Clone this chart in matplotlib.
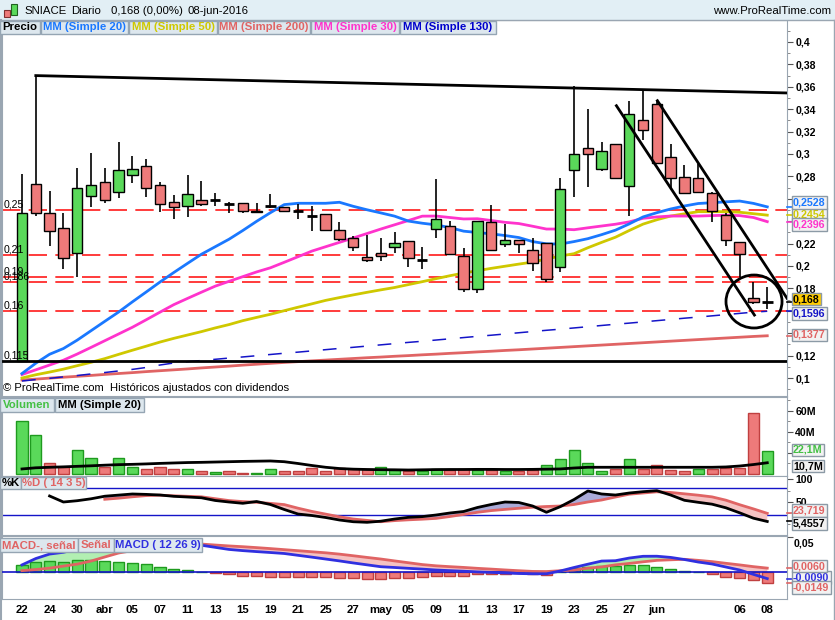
import numpy as np
import matplotlib
matplotlib.use('Agg')
import matplotlib.pyplot as plt
import matplotlib.transforms as mtransforms
from matplotlib.patches import Rectangle, Ellipse
from matplotlib.ticker import FuncFormatter

plt.rcParams['font.family'] = ['Liberation Sans', 'DejaVu Sans']
plt.rcParams['font.weight'] = 'bold'

# ---- daily candles, 22-mar-2016 .. 08-jun-2016 (index 0..54) ----
opens = [0.115, 0.273, 0.247, 0.234, 0.212, 0.2625, 0.275, 0.266, 0.281, 0.289,
         0.272, 0.257, 0.2536, 0.259, 0.259, 0.2554, 0.2563, 0.2491, 0.2536, 0.2527,
         0.249, 0.2446, 0.2464, 0.232, 0.225, 0.208, 0.2116, 0.217, 0.2223, 0.2054,
         0.233, 0.2357, 0.209, 0.1795, 0.2393, 0.2196, 0.2232, 0.2143, 0.2205, 0.1991,
         0.2857, 0.3054, 0.2866, 0.309, 0.2714, 0.330, 0.3446, 0.2973, 0.2795, 0.2786,
         0.265, 0.2455, 0.2214, 0.1714, 0.168]
highs = [0.282, 0.370, 0.267, 0.247, 0.2875, 0.301, 0.2875, 0.311, 0.298, 0.2955,
         0.275, 0.2634, 0.281, 0.276, 0.265, 0.2574, 0.2563, 0.256, 0.2643, 0.2527,
         0.2554, 0.2536, 0.2464, 0.2393, 0.2268, 0.2277, 0.225, 0.2304, 0.2223, 0.217,
         0.2777, 0.240, 0.216, 0.240, 0.2545, 0.2375, 0.2232, 0.225, 0.2205, 0.2786,
         0.3607, 0.340, 0.3107, 0.309, 0.347, 0.357, 0.348, 0.309, 0.290, 0.291,
         0.266, 0.2473, 0.2214, 0.1857, 0.1813]
lows = [0.115, 0.245, 0.218, 0.197, 0.190, 0.2525, 0.2565, 0.261, 0.274, 0.2616,
        0.248, 0.242, 0.2437, 0.2536, 0.2536, 0.247, 0.247, 0.2482, 0.2518, 0.2482,
        0.242, 0.231, 0.232, 0.2223, 0.2134, 0.2036, 0.2045, 0.2116, 0.199, 0.1973,
        0.225, 0.2107, 0.177, 0.176, 0.2143, 0.217, 0.2116, 0.1955, 0.1857, 0.1946,
        0.2616, 0.2705, 0.2848, 0.2786, 0.2446, 0.3125, 0.292, 0.2696, 0.265, 0.265,
        0.2393, 0.218, 0.190, 0.166, 0.1616]
closes = [0.247, 0.247, 0.231, 0.207, 0.270, 0.272, 0.259, 0.286, 0.2866, 0.2696,
          0.2554, 0.2527, 0.2643, 0.2554, 0.259, 0.2554, 0.249, 0.2482, 0.2536, 0.249,
          0.249, 0.2446, 0.232, 0.224, 0.217, 0.2054, 0.209, 0.2205, 0.207, 0.2054,
          0.242, 0.2107, 0.1795, 0.240, 0.2143, 0.2232, 0.2196, 0.2027, 0.1884, 0.2687,
          0.300, 0.300, 0.3027, 0.2786, 0.3357, 0.3214, 0.292, 0.2786, 0.265, 0.266,
          0.249, 0.2232, 0.2107, 0.168, 0.168]

ma20 = [0.1040, 0.1132, 0.1212, 0.1263, 0.1338, 0.1422, 0.1506, 0.1589, 0.1680, 0.1768,
        0.1857, 0.1942, 0.2024, 0.2105, 0.2172, 0.2239, 0.2317, 0.2399, 0.2476, 0.2548,
        0.2560, 0.2560, 0.2560, 0.2569, 0.2533, 0.2502, 0.2474, 0.2445, 0.2401, 0.2382,
        0.2367, 0.2343, 0.2311, 0.2299, 0.2287, 0.2272, 0.2254, 0.2218, 0.2198, 0.2196,
        0.2218, 0.2244, 0.2280, 0.2320, 0.2376, 0.2438, 0.2476, 0.2509, 0.2536, 0.2558,
        0.2565, 0.2573, 0.2580, 0.2559, 0.2528]
ma30 = [0.1031, 0.1073, 0.1116, 0.1159, 0.1214, 0.1273, 0.1333, 0.1393, 0.1453, 0.1520,
        0.1588, 0.1655, 0.1711, 0.1766, 0.1820, 0.1863, 0.1905, 0.1947, 0.1984, 0.2033,
        0.2083, 0.2133, 0.2172, 0.2211, 0.2250, 0.2290, 0.2330, 0.2368, 0.2406, 0.2445,
        0.2446, 0.2433, 0.2420, 0.2422, 0.2406, 0.2390, 0.2379, 0.2355, 0.2330, 0.2330,
        0.2324, 0.2341, 0.2357, 0.2373, 0.2394, 0.2426, 0.2438, 0.2446, 0.2446, 0.2446,
        0.2450, 0.2453, 0.2450, 0.2433, 0.2396]
ma50 = [0.1000, 0.1029, 0.1053, 0.1079, 0.1110, 0.1140, 0.1173, 0.1211, 0.1248, 0.1284,
        0.1321, 0.1354, 0.1384, 0.1414, 0.1447, 0.1477, 0.1512, 0.1541, 0.1569, 0.1601,
        0.1632, 0.1662, 0.1693, 0.1718, 0.1742, 0.1765, 0.1787, 0.1808, 0.1834, 0.1860,
        0.1887, 0.1913, 0.1937, 0.1958, 0.1979, 0.1998, 0.2017, 0.2035, 0.2063, 0.2089,
        0.2110, 0.2163, 0.2211, 0.2257, 0.2317, 0.2374, 0.2413, 0.2446, 0.2466, 0.2485,
        0.2485, 0.2485, 0.2480, 0.2467, 0.2454]
ma200 = [0.0982, 0.0990, 0.0999, 0.1007, 0.1015, 0.1023, 0.1032, 0.1040, 0.1048, 0.1057,
         0.1065, 0.1073, 0.1081, 0.1090, 0.1098, 0.1106, 0.1115, 0.1123, 0.1131, 0.1139,
         0.1146, 0.1153, 0.1160, 0.1167, 0.1174, 0.1181, 0.1187, 0.1194, 0.1200, 0.1207,
         0.1213, 0.1220, 0.1226, 0.1233, 0.1239, 0.1246, 0.1252, 0.1259, 0.1266, 0.1273,
         0.1280, 0.1287, 0.1294, 0.1301, 0.1308, 0.1315, 0.1322, 0.1329, 0.1336, 0.1343,
         0.1350, 0.1357, 0.1364, 0.1371, 0.1377]
ma130 = [0.0973, 0.0986, 0.0997, 0.1010, 0.1022, 0.1036, 0.1049, 0.1063, 0.1077, 0.1094,
         0.1116, 0.1134, 0.1146, 0.1156, 0.1167, 0.1178, 0.1188, 0.1199, 0.1210, 0.1221,
         0.1231, 0.1242, 0.1253, 0.1264, 0.1274, 0.1285, 0.1296, 0.1307, 0.1318, 0.1328,
         0.1339, 0.1350, 0.1361, 0.1372, 0.1382, 0.1393, 0.1404, 0.1415, 0.1426, 0.1436,
         0.1447, 0.1458, 0.1469, 0.1480, 0.1490, 0.1501, 0.1512, 0.1523, 0.1534, 0.1544,
         0.1555, 0.1566, 0.1577, 0.1588, 0.1596]

# horizontal levels and drawn trendlines
red_levels = [0.25, 0.21, 0.19, 0.186, 0.16]
red_labels = ['0,25', '0,21', '0,19', '0,186', '0,16']
support = 0.115
top_line_x, top_line_y = [1, 55.43], [0.370, 0.3545]
chan_a_x, chan_a_y = [43.07, 53.07], [0.3431, 0.1562]
chan_b_x, chan_b_y = [46.04, 55.43], [0.3476, 0.1712]
circle_xy, circle_w, circle_h = (53.04, 0.1683), 4.06, 0.0473

# volume (millions) and its 20-day average
volume = [50.0, 37.6, 10.0, 7.1, 23.3, 15.4, 6.9, 14.8, 6.9, 5.2,
          6.2, 4.3, 5.2, 3.3, 2.1, 3.3, 1.4, 1.4, 4.3, 2.4,
          2.4, 5.5, 2.4, 5.5, 4.6, 4.6, 6.2, 4.0, 3.3, 3.0,
          5.0, 4.0, 5.0, 4.0, 4.0, 3.0, 3.0, 4.0, 9.0, 14.4,
          23.0, 10.6, 2.8, 4.4, 14.4, 4.4, 8.8, 3.6, 3.3, 4.4,
          5.0, 5.6, 5.6, 58.0, 22.1]
vol_up = [1, 1, 0, 0, 1, 1, 0, 1, 1, 0,
          0, 0, 1, 0, 1, 0, 0, 1, 1, 0,
          0, 0, 0, 0, 0, 0, 1, 1, 0, 1,
          1, 0, 0, 1, 0, 1, 0, 0, 1, 1,
          1, 1, 1, 0, 1, 0, 0, 0, 0, 1,
          0, 0, 0, 0, 1]
vol_ma = [4.8, 5.9, 6.4, 6.8, 7.3, 7.8, 8.4, 8.9, 9.2, 9.6,
          10.1, 10.5, 10.9, 11.1, 11.4, 11.7, 12.0, 12.2, 12.4, 11.7,
          10.0, 8.1, 6.4, 5.2, 4.6, 4.3, 4.1, 4.0, 3.8, 4.0,
          4.2, 4.3, 4.3, 4.4, 4.4, 4.3, 4.3, 4.4, 4.6, 4.8,
          5.7, 6.4, 6.4, 6.4, 6.4, 6.4, 6.4, 6.4, 6.4, 6.4,
          6.4, 6.7, 7.6, 9.0, 10.7]

# stochastic (14 3 5)
nan = np.nan
stoch_k = [nan, nan, 62.7, 49.2, 52.1, 56.4, 62.2, 64.7, 67.2, 66.3,
           64.9, 62.0, 60.4, 58.7, 52.6, 49.2, 46.3, 50.3, 43.6, 32.4,
           22.2, 18.9, 14.4, 8.8, 4.9, 3.6, 6.1, 11.0, 14.8, 16.4,
           20.0, 24.5, 27.9, 36.9, 43.6, 49.2, 48.1, 40.2, 26.1, 38.7,
           54.8, 73.9, 67.2, 64.9, 69.4, 72.4, 74.6, 64.9, 53.0, 48.5,
           44.3, 36.2, 24.9, 12.8, 5.46]
stoch_d = [nan, nan, nan, nan, nan, nan, 55.3, 57.8, 60.9, 63.6,
           64.5, 63.1, 62.0, 60.9, 56.6, 52.4, 50.1, 48.5, 46.1, 43.4,
           35.3, 28.1, 22.0, 16.0, 11.0, 7.9, 4.9, 7.4, 9.2, 10.6,
           12.4, 16.6, 21.3, 26.1, 29.9, 32.6, 35.1, 37.5, 39.1, 40.2,
           43.6, 49.2, 53.7, 60.4, 66.7, 69.4, 72.1, 70.6, 67.6, 64.5,
           60.7, 53.3, 43.1, 33.7, 23.72]

# MACD (12 26 9)
macd = [0.0106, 0.0197, 0.0261, 0.0286, 0.0333, 0.0361, 0.0383, 0.0397, 0.0404, 0.0409,
        0.0411, 0.0404, 0.0396, 0.0387, 0.0357, 0.0327, 0.0310, 0.0296, 0.0283, 0.0269,
        0.0243, 0.0217, 0.0190, 0.0163, 0.0134, 0.0107, 0.0080, 0.0069, 0.0057, 0.0046,
        0.0033, 0.0024, 0.0016, 0.0006, -0.0001, -0.0009, -0.0017, -0.0021, -0.0021, 0.0019,
        0.0069, 0.0116, 0.0161, 0.0166, 0.0204, 0.0229, 0.0230, 0.0213, 0.0183, 0.0147,
        0.0119, 0.0076, 0.0033, -0.0029, -0.0090]
signal = [0.0024, 0.0040, 0.0060, 0.0089, 0.0117, 0.0161, 0.0219, 0.0276, 0.0310, 0.0333,
          0.0354, 0.0376, 0.0393, 0.0404, 0.0390, 0.0377, 0.0366, 0.0353, 0.0339, 0.0324,
          0.0309, 0.0294, 0.0279, 0.0260, 0.0237, 0.0213, 0.0190, 0.0163, 0.0137, 0.0111,
          0.0093, 0.0081, 0.0070, 0.0057, 0.0046, 0.0034, 0.0023, 0.0013, 0.0011, 0.0023,
          0.0033, 0.0059, 0.0077, 0.0107, 0.0127, 0.0150, 0.0171, 0.0179, 0.0186, 0.0171,
          0.0153, 0.0129, 0.0106, 0.0081, 0.0060]
hist = [0.0104, 0.0147, 0.0161, 0.0147, 0.0176, 0.0176, 0.0161, 0.0147, 0.0128, 0.0114,
        0.0071, 0.0047, 0.0033, 0.0004, -0.0014, -0.0029, -0.0048, -0.0048, -0.0062, -0.0062,
        -0.0062, -0.0071, -0.0071, -0.0086, -0.0086, -0.0100, -0.0100, -0.0086, -0.0086, -0.0071,
        -0.0057, -0.0048, -0.0048, -0.0029, -0.0029, -0.0019, -0.0014, -0.0029, -0.0039, 0.0005,
        0.0057, 0.0080, 0.0094, 0.0094, 0.0104, 0.0104, 0.0071, 0.0047, 0.0019, 0.0003,
        -0.0029, -0.0062, -0.0086, -0.0110, -0.0149]

# x axis labels (trading-day index -> text)
xlabel_pos = [0, 2, 4, 6, 8, 10, 12, 14, 16, 18, 20, 22, 24, 26, 28, 30, 32, 34, 36, 38,
              40, 42, 44, 46, 52, 54]
xlabel_txt = ['22', '24', '30', 'abr', '05', '07', '11', '13', '15', '19', '21', '25', '27',
              'may', '05', '09', '11', '13', '17', '19', '23', '25', '27', 'jun', '06', '08']

# ------------------------------------------------------------------
W, H = 835, 620
fig = plt.figure(figsize=(W / 100, H / 100), dpi=100)
fig.patch.set_facecolor('white')

GRID = '#9aa6b2'
GREEN, GREEN_E = '#5ad95a', '#1f9a1f'
RED, RED_E = '#ee7a7a', '#c04040'
BLUE, YELLOW, MAGENTA, SALMON, NAVY = '#1a78ff', '#cfc800', '#ff33cc', '#e06464', '#1414c8'
XMIN, XMAX = -1.449, 55.43


def px_axes(x0, y0, x1, y1):
    a = fig.add_axes([x0 / W, 1 - y1 / H, (x1 - x0) / W, (y1 - y0) / H])
    a.set_xlim(XMIN, XMAX)
    a.set_xticks([])
    for s in a.spines.values():
        s.set_color(GRID)
    a.yaxis.tick_right()
    a.tick_params(axis='y', which='major', length=4, color='#555555', labelsize=7.6, pad=2)
    a.tick_params(axis='y', which='minor', length=2, color='#777777')
    return a


def tag(a, y, text, color, fc='#f2f2f2'):
    tr = mtransforms.blended_transform_factory(a.transAxes, a.transData)
    a.text(1 + 6 / 785, y, text, transform=tr, color=color, fontsize=7.7, weight='bold',
           va='center', ha='left', clip_on=False, zorder=10,
           bbox=dict(boxstyle='square,pad=0.12', fc=fc, ec='#8c9aa6', lw=1))


def mark(a, y, color):
    tr = mtransforms.blended_transform_factory(a.transAxes, a.transData)
    a.plot([1.0, 1 + 5 / 785], [y, y], transform=tr, color=color, lw=1.2, clip_on=False, zorder=9)


def legend_row(y0, y1, items):
    for text, color, x0, x1 in items:
        fig.patches.append(Rectangle((x0 / W, 1 - y1 / H), (x1 - x0) / W, (y1 - y0) / H,
                                     transform=fig.transFigure, fc='#dde7ee', ec='#95a5b3',
                                     lw=1, zorder=6))
        fig.text((x0 + x1) / 2 / W, 1 - (y0 + y1) / 2 / H, text, color=color, ha='center',
                 va='center', fontsize=8.2, weight='bold', zorder=7)


def price_fmt(v, p):
    # labels hidden under the value tags in the original are left blank
    if any(abs(v - hv) < 1e-6 for hv in (0.26, 0.24, 0.16, 0.14)):
        return ''
    s = f'{v:.2f}'.rstrip('0').rstrip('.')
    return s.replace('.', ',')


idx = np.arange(len(closes))
o, h, l, c = map(np.array, (opens, highs, lows, closes))

# ---- header ----
fig.patches.append(Rectangle((0, 1 - 19.5 / H), 1, 19.5 / H, transform=fig.transFigure,
                             fc='#e2eff5', ec='none', zorder=1))
fig.lines.append(plt.Line2D([0, 1], [1 - 19.5 / H] * 2, transform=fig.transFigure,
                            color=GRID, lw=1))
fig.patches.append(Rectangle((4 / W, 1 - 17 / H), 6 / W, 7 / H, transform=fig.transFigure,
                             fc=RED, ec='#803030', lw=0.8, zorder=2))
fig.patches.append(Rectangle((11 / W, 1 - 15 / H), 6 / W, 11 / H, transform=fig.transFigure,
                             fc=GREEN, ec='#206020', lw=0.8, zorder=2))
for xx, s in [(24, 'SNIACE'), (71, 'Diario'), (111, '0,168 (0,00%)'), (188, '08-jun-2016')]:
    fig.text(xx / W, 1 - 11.5 / H, s, fontsize=8.2, weight='normal', va='center')
fig.text(831 / W, 1 - 11.5 / H, 'www.ProRealTime.com', fontsize=8.2, weight='normal',
         va='center', ha='right')

# ---- price panel ----
ax = px_axes(2, 20, 787, 396)
ax.set_ylim(0.08393, 0.41964)
ax.set_yticks(np.arange(0.10, 0.4001, 0.02))
ax.set_yticks(np.arange(0.09, 0.415, 0.01), minor=True)
ax.yaxis.set_major_formatter(FuncFormatter(price_fmt))

for lev, lab in zip(red_levels, red_labels):
    ax.axhline(lev, color='#ff1a1a', lw=1.2, dashes=(11, 5), zorder=1.5)
    ax.text(-1.33, lev + 0.0006, lab, fontsize=7.6, weight='normal', va='bottom', zorder=6)
ax.axhline(support, color='black', lw=2, zorder=5)
ax.text(-1.33, support + 0.0006, '0,115', fontsize=7.6, weight='normal', va='bottom', zorder=6)

ax.plot(idx, ma200, color=SALMON, lw=2, zorder=2)
ax.plot(idx, ma130, color=NAVY, lw=1.1, dashes=(9, 9), zorder=2)
ax.plot(idx, ma50, color=YELLOW, lw=2, zorder=2)
ax.plot(idx, ma30, color=MAGENTA, lw=2, zorder=2)
ax.plot(idx, ma20, color=BLUE, lw=2, zorder=2)

ax.vlines(idx, l, h, color='black', lw=1.2, zorder=3)
doji = c == o
body_col = np.where(c > o, GREEN, RED)
ax.bar(idx[~doji], np.abs(c - o)[~doji], bottom=np.minimum(o, c)[~doji], width=0.75,
       color=body_col[~doji], edgecolor='black', lw=1, zorder=4)
ax.hlines(c[doji], idx[doji] - 0.38, idx[doji] + 0.38, color='black', lw=2, zorder=4)

ax.plot(top_line_x, top_line_y, color='black', lw=2, zorder=5)
ax.plot(chan_a_x, chan_a_y, color='black', lw=2, zorder=5)
ax.plot(chan_b_x, chan_b_y, color='black', lw=2, zorder=5)
ax.add_patch(Ellipse(circle_xy, circle_w, circle_h, fill=False, ec='black', lw=2, zorder=5))

for v, col in [(0.2528, BLUE), (0.2454, YELLOW), (0.2396, MAGENTA), (0.168, 'black'),
               (0.1596, NAVY), (0.1377, SALMON)]:
    mark(ax, v, col)
tag(ax, 0.2462, '0,2454', YELLOW)
tag(ax, 0.2565, '0,2528', BLUE)
tag(ax, 0.2372, '0,2396', MAGENTA)
tag(ax, 0.1705, '0,168', 'black', fc='#ffcc00')
tag(ax, 0.1578, '0,1596', NAVY)
tag(ax, 0.1384, '0,1377', SALMON)

fig.text(3 / W, 1 - 388 / H, '\u00a9 ProRealTime.com  Hist\u00f3ricos ajustados con dividendos',
         fontsize=8.1, weight='normal', va='center', zorder=7)
legend_row(21, 34, [('Precio', 'black', 0, 40), ('MM (Simple 20)', BLUE, 41, 128),
                    ('MM (Simple 50)', YELLOW, 129, 217), ('MM (Simple 200)', SALMON, 218, 310),
                    ('MM (Simple 30)', MAGENTA, 311, 399), ('MM (Simple 130)', '#0000cc', 400, 496)])

# ---- volume panel ----
axv = px_axes(2, 397, 787, 475.5)
axv.set_ylim(-1.43, 73.3)
axv.set_yticks([20, 40, 60])
axv.set_yticks([10, 30, 50, 70], minor=True)
axv.yaxis.set_major_formatter(FuncFormatter(lambda v, p: '' if v < 30 else f'{int(v)}M'))
vu = np.array(vol_up, dtype=bool)
axv.bar(idx, volume, width=0.8, color=np.where(vu, GREEN, RED),
        edgecolor=np.where(vu, GREEN_E, RED_E), lw=1, zorder=2)
axv.plot(idx, vol_ma, color='black', lw=2, zorder=3)
tag(axv, 22.9, '22,1M', '#44c044')
tag(axv, 7.6, '10,7M', 'black')
legend_row(398, 412, [('Volumen', '#44c044', 0, 54), ('MM (Simple 20)', 'black', 55, 144)])

# ---- stochastic panel ----
axs = px_axes(2, 476, 787, 535)
axs.set_ylim(-24.9, 107.6)
axs.set_yticks([50, 100])
axs.set_yticks([0, 25, 75], minor=True)
axs.axhline(80, color=NAVY, lw=1, zorder=1)
axs.axhline(20, color=NAVY, lw=1, zorder=1)
k, d = np.array(stoch_k), np.array(stoch_d)
axs.fill_between(idx, k, d, where=k >= d, interpolate=True, color='#aaaad8', lw=0, zorder=2)
axs.fill_between(idx, k, d, where=k < d, interpolate=True, color='#f5c2c2', lw=0, zorder=2)
axs.plot(idx, d, color=SALMON, lw=2, zorder=3)
axs.plot(idx, k, color='black', lw=2, zorder=4)
mark(axs, 23.72, SALMON)
mark(axs, 5.46, 'black')
tag(axs, 29.5, '23,719', SALMON)
tag(axs, 1.3, '5,4557', 'black')
legend_row(477, 489, [('%K', 'black', 0, 21), ('%D ( 14 3 5)', SALMON, 21, 86)])

# ---- MACD panel ----
axm = px_axes(2, 536, 787, 598.5)
axm.set_ylim(-0.0374, 0.0519)
axm.set_yticks([0.05])
axm.set_yticklabels([''])
trm = mtransforms.blended_transform_factory(axm.transAxes, axm.transData)
axm.text(1 + 7 / 785, 0.0414, '0,05', transform=trm, fontsize=7.6, va='center', clip_on=False)
axm.axhline(0, color=NAVY, lw=1.2, zorder=3)
hv = np.array(hist)
axm.bar(idx, hv, width=0.8, color=np.where(hv >= 0, GREEN, RED),
        edgecolor=np.where(hv >= 0, GREEN_E, RED_E), lw=1, zorder=2)
mv, sv = np.array(macd), np.array(signal)
axm.fill_between(idx, mv, sv, where=mv >= sv, interpolate=True, color='#b2efb2', lw=0, zorder=1)
axm.fill_between(idx, mv, sv, where=mv < sv, interpolate=True, color='#f5c2c2', lw=0, zorder=1)
axm.plot(idx, sv, color=SALMON, lw=2, zorder=4)
axm.plot(idx, mv, color='#3030e0', lw=2, zorder=5)
mark(axm, 0.0060, SALMON)
mark(axm, -0.0090, '#3030e0')
mark(axm, -0.0149, SALMON)
tag(axm, -0.0071, '-0,0090', '#3030e0')
tag(axm, 0.0090, '0,0060', SALMON)
tag(axm, -0.0214, '-0,0149', SALMON)
legend_row(538, 552, [('MACD-, se\u00f1al', SALMON, 0, 78), ('Se\u00f1al', SALMON, 78, 114),
                      ('MACD ( 12 26 9)', '#3030e0', 114, 202)])

axm.set_xticks(xlabel_pos)
axm.set_xticklabels(xlabel_txt, fontsize=8.2, weight='bold')
axm.tick_params(axis='x', length=0, pad=5)

# frame lines
fig.lines.append(plt.Line2D([1 / W] * 2, [0, 1 - 19.5 / H], transform=fig.transFigure,
                            color=GRID, lw=1.5))
fig.lines.append(plt.Line2D([833.5 / W] * 2, [0, 1 - 19.5 / H], transform=fig.transFigure,
                            color=GRID, lw=1))

fig.savefig('out.png', dpi=100, facecolor='white')
